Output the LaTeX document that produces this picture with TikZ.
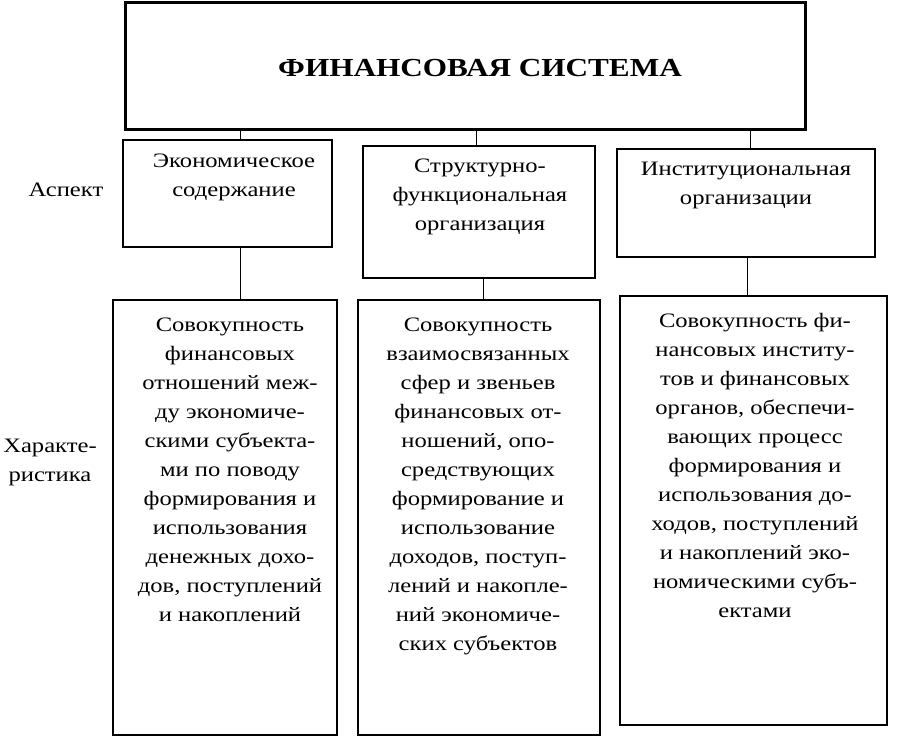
\documentclass[tikz,border=0pt]{standalone}
\usepackage{fontspec}
\setmainfont{Liberation Serif}
\begin{document}
\begin{tikzpicture}[x=1pt,y=-1pt,
  box/.style={draw,line width=1.6pt},
  txt/.style={align=center,font=\fontsize{20.5}{29}\selectfont,anchor=north,xscale=1.2},
  conn/.style={line width=0.8pt}]
\useasboundingbox (0,0) rectangle (906,752);
\draw[box,line width=3pt] (125,3) rectangle (805,130);
\node[font=\fontsize{26}{30}\selectfont\bfseries,xscale=1.2] (title) at (480,68) {ФИНАНСОВАЯ СИСТЕМА};
\coordinate (tb1) at (240,130);\coordinate (tb2) at (476,130);\coordinate (tb3) at (750,130);
\draw[box] (123,140) rectangle (332,247);
\draw[box] (363,146) rectangle (595,278);
\draw[box] (617,149) rectangle (875,257);
\node[txt] (a1) at (234,150) {Экономическое\\содержание};
\node[txt] (a2) at (480,155) {Структурно-\\функциональная\\организация};
\node[txt] (a3) at (746,159) {Институциональная\\организации};
\draw[box] (113,300) rectangle (337,735);
\draw[box] (358,300) rectangle (600,735);
\draw[box] (620,296) rectangle (887,725);
\draw[conn] (tb1) -- (240,140);
\draw[conn] (tb2) -- (476,146);
\draw[conn] (tb3) -- (750,149);
\draw[conn] (240,247) -- (240,300);
\draw[conn] (483,278) -- (483,300);
\draw[conn] (747,257) -- (747,296);
\node[txt] (c1) at (230,314) {Совокупность\\финансовых\\отношений меж-\\ду экономиче-\\скими субъекта-\\ми по поводу\\формирования и\\использования\\денежных дохо-\\дов, поступлений\\и накоплений};
\node[txt] (c2) at (478,314) {Совокупность\\взаимосвязанных\\сфер и звеньев\\финансовых от-\\ношений, опо-\\средствующих\\формирование и\\использование\\доходов, поступ-\\лений и накопле-\\ний экономиче-\\ских субъектов};
\node[txt] (c3) at (755,310) {Совокупность фи-\\нансовых институ-\\тов и финансовых\\органов, обеспечи-\\вающих процесс\\формирования и\\использования до-\\ходов, поступлений\\и накоплений эко-\\номическими субъ-\\ектами};
\node[font=\fontsize{20.5}{24}\selectfont,xscale=1.2] (asp) at (66,190) {Аспект};
\node[align=center,font=\fontsize{20.5}{29}\selectfont,xscale=1.2] (har) at (50,462) {Характе-\\ристика};
\end{tikzpicture}
\end{document}
